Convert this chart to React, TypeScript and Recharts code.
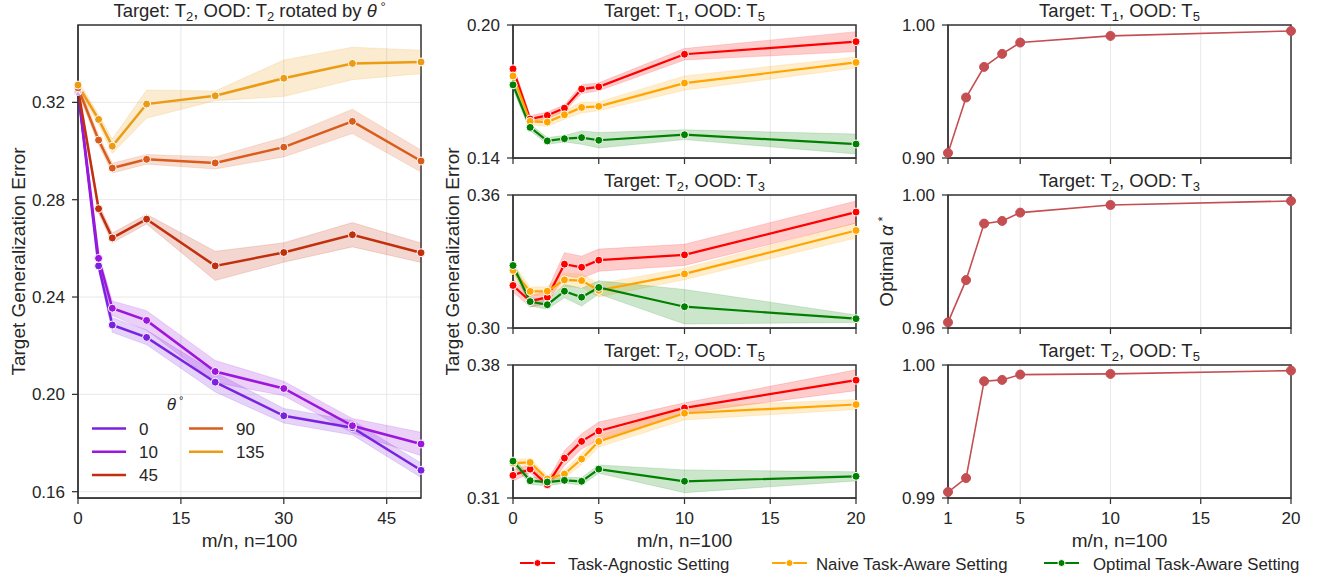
import React from "react";
import {
  ComposedChart,
  Line,
  Area,
  XAxis,
  YAxis,
  CartesianGrid,
  ReferenceArea,
} from "recharts";

const FONT = '"Liberation Sans", Arial, sans-serif';
const INK = "#262626";
const SPINE = "#333333";
const GRID = "#e8e8e8";

// ---- left panel: target T2, OOD T2 rotated by theta ----
const thetaX = [0, 3, 5, 10, 20, 30, 40, 50];
const theta0 = [0.3245, 0.2528, 0.2285, 0.2234, 0.205, 0.1912, 0.1863, 0.1688];
const theta10 = [0.325, 0.2559, 0.2354, 0.2304, 0.2094, 0.2024, 0.1871, 0.1796];
const theta45 = [0.3255, 0.2763, 0.2643, 0.272, 0.2528, 0.2583, 0.2656, 0.2582];
const theta90 = [0.326, 0.3045, 0.293, 0.2966, 0.2951, 0.3016, 0.3122, 0.2959];
const theta135 = [0.3271, 0.313, 0.302, 0.3193, 0.3227, 0.3299, 0.336, 0.3366];
// half width of the shaded bands
const theta0Ci = [0.002, 0.002, 0.003, 0.003, 0.004, 0.003, 0.003, 0.003];
const theta10Ci = [0.002, 0.002, 0.003, 0.004, 0.0045, 0.003, 0.003, 0.0048];
const theta45Ci = [0.002, 0.002, 0.002, 0.002, 0.006, 0.004, 0.005, 0.004];
const theta90Ci = [0.002, 0.002, 0.002, 0.002, 0.0025, 0.004, 0.005, 0.0045];
const theta135Ci = [0.002, 0.002, 0.003, 0.0058, 0.002, 0.0075, 0.0067, 0.0048];
const thetaLabels = ["0", "10", "45", "90", "135"];
const thetaColors = ["#7b22e0", "#9c16dc", "#c1300e", "#da5c1c", "#eb9b14"];

// ---- middle panels: target generalization error ----
const mnX = [0, 1, 2, 3, 4, 5, 10, 20];
const settingNames = [
  "Task-Agnostic Setting",
  "Naive Task-Aware Setting",
  "Optimal Task-Aware Setting",
];
const settingColors = ["#ff0000", "#ffa500", "#008000"];

const t1t5Agnostic = [0.1802, 0.1576, 0.1592, 0.1625, 0.1711, 0.1721, 0.1868, 0.1925];
const t1t5Naive = [0.177, 0.1565, 0.1562, 0.1595, 0.1628, 0.1633, 0.1738, 0.1831];
const t1t5Optimal = [0.173, 0.1538, 0.1477, 0.1487, 0.1492, 0.148, 0.1505, 0.1463];
const t1t5AgnosticCi = [0.002, 0.0015, 0.0015, 0.0015, 0.002, 0.0018, 0.0026, 0.0045];
const t1t5NaiveCi = [0.002, 0.0015, 0.002, 0.002, 0.0025, 0.002, 0.0032, 0.0025];
const t1t5OptimalCi = [0.002, 0.0015, 0.0015, 0.0015, 0.003, 0.0035, 0.0022, 0.0045];

const t2t3Agnostic = [0.3192, 0.312, 0.3139, 0.3288, 0.3274, 0.3306, 0.333, 0.3523];
const t2t3Naive = [0.326, 0.3165, 0.3166, 0.3217, 0.3214, 0.317, 0.3244, 0.344];
const t2t3Optimal = [0.3282, 0.3119, 0.3105, 0.3166, 0.3139, 0.3183, 0.3096, 0.3042];
const t2t3AgnosticCi = [0.003, 0.0025, 0.003, 0.0052, 0.005, 0.005, 0.0048, 0.005];
const t2t3NaiveCi = [0.003, 0.002, 0.002, 0.003, 0.003, 0.003, 0.0026, 0.0034];
const t2t3OptimalCi = [0.002, 0.002, 0.002, 0.003, 0.004, 0.003, 0.0078, 0.0017];

const t2t5Agnostic = [0.3219, 0.3252, 0.317, 0.331, 0.3398, 0.3453, 0.3574, 0.372];
const t2t5Naive = [0.3284, 0.3287, 0.32, 0.3226, 0.3305, 0.3398, 0.3546, 0.3592];
const t2t5Optimal = [0.3294, 0.3191, 0.3184, 0.3193, 0.3188, 0.3252, 0.3188, 0.3214];
const t2t5AgnosticCi = [0.003, 0.002, 0.002, 0.004, 0.004, 0.0047, 0.0027, 0.0055];
const t2t5NaiveCi = [0.002, 0.002, 0.002, 0.002, 0.003, 0.003, 0.0035, 0.0026];
const t2t5OptimalCi = [0.002, 0.002, 0.002, 0.0015, 0.002, 0.0022, 0.006, 0.0024];

// ---- right panels: optimal alpha* ----
const alphaX = [1, 2, 3, 4, 5, 10, 20];
const alphaT1T5 = [0.9038, 0.9455, 0.9685, 0.9783, 0.9868, 0.9918, 0.9955];
const alphaT2T3 = [0.9617, 0.9744, 0.9914, 0.9922, 0.9947, 0.997, 0.9982];
const alphaT2T5 = [0.99045, 0.9915, 0.99878, 0.99888, 0.99928, 0.99933, 0.99958];
const alphaColor = "#c44e52";

type Series = {
  key: string;
  color: string;
  mean: number[];
  ci?: number[];
};

const buildRows = (xs: number[], series: Series[]) =>
  xs.map((x, i) => {
    const row: any = { x };
    series.forEach((s) => {
      row[s.key] = s.mean[i];
      if (s.ci) row[s.key + "_ci"] = [s.mean[i] - s.ci[i], s.mean[i] + s.ci[i]];
    });
    return row;
  });

type PanelProps = {
  left: number;
  top: number;
  w: number;
  h: number;
  xs: number[];
  series: Series[];
  xDomain: [number, number];
  xTicks: number[];
  yDomain: [number, number];
  yTicks: number[];
  xLabels: boolean;
  lineWidth: number;
  dotR: number;
  dotEdge: string;
};

const YW = 80;
const MT = 10;
const MR = 14;
const XH = 38;

function Panel(p: PanelProps) {
  const rows = buildRows(p.xs, p.series);
  const tickStyle = { fontSize: 17, fill: INK, fontFamily: FONT };
  return (
    <div style={{ position: "absolute", left: p.left - YW, top: p.top - MT }}>
      <ComposedChart
        width={YW + p.w + MR}
        height={MT + p.h + XH}
        data={rows}
        margin={{ top: MT, right: MR, bottom: 0, left: 0 }}
      >
        <CartesianGrid stroke={GRID} strokeWidth={1} />
        <XAxis
          type="number"
          dataKey="x"
          domain={p.xDomain}
          ticks={p.xTicks}
          interval={0}
          height={XH}
          tick={tickStyle}
          tickSize={6}
          tickMargin={8}
          tickLine={{ stroke: SPINE, strokeWidth: 1.25 }}
          axisLine={{ stroke: SPINE, strokeWidth: 1.25 }}
          tickFormatter={(v: number) => (p.xLabels ? String(v) : "")}
        />
        <YAxis
          type="number"
          domain={p.yDomain}
          ticks={p.yTicks}
          interval={0}
          width={YW}
          tick={tickStyle}
          tickSize={6}
          tickMargin={7}
          tickLine={{ stroke: SPINE, strokeWidth: 1.25 }}
          axisLine={{ stroke: SPINE, strokeWidth: 1.25 }}
          tickFormatter={(v: number) => v.toFixed(2)}
        />
        <ReferenceArea
          x1={p.xDomain[0]}
          x2={p.xDomain[1]}
          y1={p.yDomain[0]}
          y2={p.yDomain[1]}
          fill="none"
          fillOpacity={0}
          stroke={SPINE}
          strokeWidth={1.5}
          ifOverflow="visible"
        />
        {p.series
          .filter((s) => s.ci)
          .map((s) => (
            <Area
              key={s.key + "_ci"}
              type="linear"
              dataKey={s.key + "_ci"}
              stroke={s.color}
              strokeOpacity={0.15}
              strokeWidth={1}
              fill={s.color}
              fillOpacity={0.2}
              dot={false}
              activeDot={false}
              isAnimationActive={false}
            />
          ))}
        {p.series.map((s) => (
          <Line
            key={s.key}
            type="linear"
            dataKey={s.key}
            stroke={s.color}
            strokeWidth={p.lineWidth}
            dot={{ r: p.dotR, fill: s.color, stroke: p.dotEdge, strokeWidth: 1 }}
            activeDot={false}
            isAnimationActive={false}
          />
        ))}
      </ComposedChart>
    </div>
  );
}

const leftSeries: Series[] = [
  { key: "t0", color: thetaColors[0], mean: theta0, ci: theta0Ci },
  { key: "t10", color: thetaColors[1], mean: theta10, ci: theta10Ci },
  { key: "t45", color: thetaColors[2], mean: theta45, ci: theta45Ci },
  { key: "t90", color: thetaColors[3], mean: theta90, ci: theta90Ci },
  { key: "t135", color: thetaColors[4], mean: theta135, ci: theta135Ci },
];

const mid = (a: number[], b: number[], c: number[], ca: number[], cb: number[], cc: number[]): Series[] => [
  { key: "agn", color: settingColors[0], mean: a, ci: ca },
  { key: "naive", color: settingColors[1], mean: b, ci: cb },
  { key: "opt", color: settingColors[2], mean: c, ci: cc },
];

const midPanels = [
  { t: "1", o: "5", top: 25, yDomain: [0.14, 0.2] as [number, number], series: mid(t1t5Agnostic, t1t5Naive, t1t5Optimal, t1t5AgnosticCi, t1t5NaiveCi, t1t5OptimalCi) },
  { t: "2", o: "3", top: 195, yDomain: [0.3, 0.36] as [number, number], series: mid(t2t3Agnostic, t2t3Naive, t2t3Optimal, t2t3AgnosticCi, t2t3NaiveCi, t2t3OptimalCi) },
  { t: "2", o: "5", top: 365, yDomain: [0.31, 0.38] as [number, number], series: mid(t2t5Agnostic, t2t5Naive, t2t5Optimal, t2t5AgnosticCi, t2t5NaiveCi, t2t5OptimalCi) },
];

const rightPanels = [
  { t: "1", o: "5", top: 25, yDomain: [0.9, 1.0] as [number, number], values: alphaT1T5 },
  { t: "2", o: "3", top: 195, yDomain: [0.96, 1.0] as [number, number], values: alphaT2T3 },
  { t: "2", o: "5", top: 365, yDomain: [0.99, 1.0] as [number, number], values: alphaT2T5 },
];

function PanelTitle({ x, y, t, o }: { x: number; y: number; t: string; o: string }) {
  return (
    <text x={x} y={y} textAnchor="middle" fontSize={18.5} fill={INK}>
      Target: T<tspan fontSize={13} dy={4}>{t}</tspan>
      <tspan dy={-4}>, OOD: T</tspan>
      <tspan fontSize={13} dy={4}>{o}</tspan>
    </text>
  );
}

function VLabel({ x, y, children }: { x: number; y: number; children: React.ReactNode }) {
  return (
    <g transform={`translate(${x},${y}) rotate(-90)`}>
      <text x={0} y={6.5} textAnchor="middle" fontSize={19} fill={INK}>
        {children}
      </text>
    </g>
  );
}

export default function App() {
  return (
    <div
      style={{
        position: "absolute",
        left: 0,
        top: 0,
        width: 1317,
        height: 577,
        background: "#fff",
        fontFamily: FONT,
      }}
    >
      <Panel
        left={78}
        top={25}
        w={343}
        h={473}
        xs={thetaX}
        series={leftSeries}
        xDomain={[0, 50]}
        xTicks={[0, 15, 30, 45]}
        yDomain={[0.1574, 0.3518]}
        yTicks={[0.16, 0.2, 0.24, 0.28, 0.32]}
        xLabels={true}
        lineWidth={2.5}
        dotR={4}
        dotEdge="#ffffff"
      />
      {midPanels.map((m, i) => (
        <Panel
          key={"m" + i}
          left={513}
          top={m.top}
          w={343}
          h={133}
          xs={mnX}
          series={m.series}
          xDomain={[0, 20]}
          xTicks={[0, 5, 10, 15, 20]}
          yDomain={m.yDomain}
          yTicks={m.yDomain}
          xLabels={i === 2}
          lineWidth={2.2}
          dotR={4}
          dotEdge="#ffffff"
        />
      ))}
      {rightPanels.map((r, i) => (
        <Panel
          key={"r" + i}
          left={948}
          top={r.top}
          w={343}
          h={133}
          xs={alphaX}
          series={[{ key: "alpha", color: alphaColor, mean: r.values }]}
          xDomain={[1, 20]}
          xTicks={[1, 5, 10, 15, 20]}
          yDomain={r.yDomain}
          yTicks={r.yDomain}
          xLabels={i === 2}
          lineWidth={1.6}
          dotR={4.5}
          dotEdge={alphaColor}
        />
      ))}

      <svg
        width={1317}
        height={577}
        style={{ position: "absolute", left: 0, top: 0, pointerEvents: "none" }}
        fontFamily={FONT}
      >
        {/* titles */}
        <text x={249.5} y={17} textAnchor="middle" fontSize={18.5} fill={INK}>
          Target: T<tspan fontSize={13} dy={4}>2</tspan>
          <tspan dy={-4}>, OOD: T</tspan>
          <tspan fontSize={13} dy={4}>2</tspan>
          <tspan dy={-4}> rotated by </tspan>
          <tspan fontStyle="italic">θ</tspan>
          <tspan fontSize={13} dy={-6}> °</tspan>
        </text>
        {midPanels.map((m, i) => (
          <PanelTitle key={"mt" + i} x={684.5} y={m.top - 8} t={m.t} o={m.o} />
        ))}
        {rightPanels.map((r, i) => (
          <PanelTitle key={"rt" + i} x={1119.5} y={r.top - 8} t={r.t} o={r.o} />
        ))}

        {/* axis labels */}
        <text x={249.5} y={547} textAnchor="middle" fontSize={19} fill={INK}>m/n, n=100</text>
        <text x={684.5} y={547} textAnchor="middle" fontSize={19} fill={INK}>m/n, n=100</text>
        <text x={1119.5} y={547} textAnchor="middle" fontSize={19} fill={INK}>m/n, n=100</text>
        <VLabel x={18} y={261.5}>Target Generalization Error</VLabel>
        <VLabel x={452} y={261.5}>Target Generalization Error</VLabel>
        <VLabel x={886} y={261.5}>
          Optimal <tspan fontStyle="italic">α</tspan>
          <tspan fontSize={13} dy={-6}> *</tspan>
        </VLabel>

        {/* theta legend */}
        <text x={175} y={410} textAnchor="middle" fontSize={17} fill={INK}>
          <tspan fontStyle="italic">θ</tspan>
          <tspan fontSize={11} dy={-6}> °</tspan>
        </text>
        {thetaLabels.map((lab, i) => {
          const col = i < 3 ? 0 : 1;
          const row = i < 3 ? i : i - 3;
          const lx = col === 0 ? 92 : 189;
          const ly = 428.5 + row * 23.3;
          return (
            <g key={"tl" + i}>
              <line x1={lx} x2={lx + 34} y1={ly} y2={ly} stroke={thetaColors[i]} strokeWidth={2.5} />
              <text x={lx + 47} y={ly + 6} fontSize={17} fill={INK}>{lab}</text>
            </g>
          );
        })}

        {/* setting legend */}
        {settingNames.map((name, i) => {
          const lx = [520, 772, 1044][i];
          const tx = [568, 816, 1093][i];
          return (
            <g key={"sl" + i}>
              <line x1={lx} x2={lx + 35} y1={563} y2={563} stroke={settingColors[i]} strokeWidth={2.2} />
              <circle cx={lx + 17.5} cy={563} r={3.5} fill={settingColors[i]} stroke="#fff" strokeWidth={1} />
              <text x={tx} y={570} fontSize={16.8} fill={INK}>{name}</text>
            </g>
          );
        })}
      </svg>
    </div>
  );
}
